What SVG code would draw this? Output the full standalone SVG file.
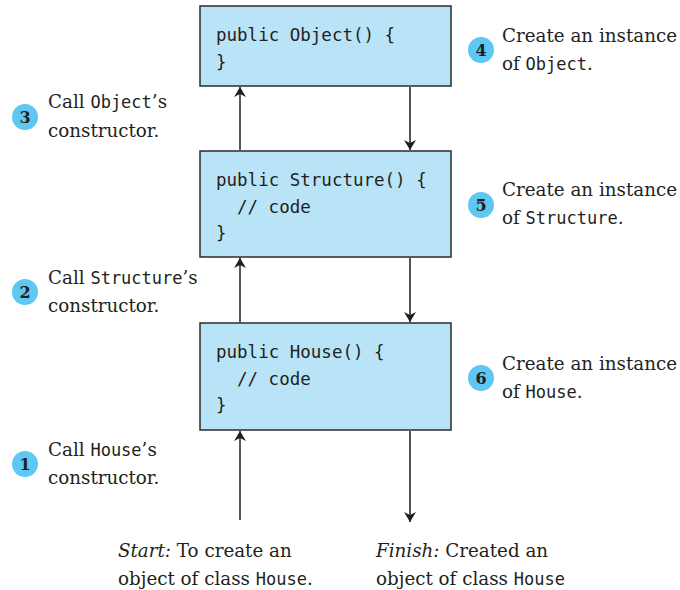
<svg xmlns="http://www.w3.org/2000/svg" width="680" height="590" viewBox="0 0 680 590">
<style>
.box{fill:#b9e4f7;stroke:#2b2b2b;stroke-width:1.5}
.code{font-family:"DejaVu Sans Mono",monospace;font-size:17.5px;fill:#231f20;white-space:pre}
.lbl{font-family:"DejaVu Serif",serif;font-size:18.3px;fill:#231f20}
.m{font-family:"DejaVu Sans Mono",monospace;font-size:17px}
.num{fill:#5ec8f2}
.nt{font-family:"DejaVu Serif",serif;font-size:16px;font-weight:bold;fill:#231f20;text-anchor:middle}
.up{stroke:#231f20;stroke-width:1.5;fill:none}
.dn{stroke:#555;stroke-width:2;fill:none}
</style>
<defs>
<marker id="ah" viewBox="0 0 10 12" refX="10" refY="6" markerWidth="10" markerHeight="12" markerUnits="userSpaceOnUse" orient="auto">
<path d="M0,0 L10,6 L0,12 L3,6 Z" fill="#231f20"/>
</marker>
</defs>
<g id="connectors">
<line class="up" x1="240" y1="520" x2="240" y2="431" marker-end="url(#ah)"/>
<line class="up" x1="240" y1="322" x2="240" y2="258" marker-end="url(#ah)"/>
<line class="up" x1="240" y1="150" x2="240" y2="87" marker-end="url(#ah)"/>
<line class="dn" x1="410" y1="87" x2="410" y2="150" marker-end="url(#ah)"/>
<line class="dn" x1="410" y1="258" x2="410" y2="322" marker-end="url(#ah)"/>
<line class="dn" x1="410" y1="431" x2="410" y2="522" marker-end="url(#ah)"/>
</g>
<g id="object">
<rect class="box" x="200" y="6" width="251" height="80"/>
<text class="code" x="216" y="41">public Object() {</text>
<text class="code" x="216" y="68">}</text>
</g>
<g id="structure">
<rect class="box" x="200" y="151" width="251" height="106"/>
<text class="code" x="216" y="186">public Structure() {</text>
<text class="code" x="237" y="213">// code</text>
<text class="code" x="216" y="239">}</text>
</g>
<g id="house">
<rect class="box" x="200" y="323" width="251" height="107"/>
<text class="code" x="216" y="358">public House() {</text>
<text class="code" x="237" y="385">// code</text>
<text class="code" x="216" y="411">}</text>
</g>
<g id="step3">
<circle class="num" cx="25" cy="117" r="13"/>
<text class="nt" x="25" y="123">3</text>
<text class="lbl" x="48" y="108">Call <tspan class="m">Object</tspan>’s</text>
<text class="lbl" x="48" y="137">constructor.</text>
</g>
<g id="step2">
<circle class="num" cx="25" cy="292" r="13"/>
<text class="nt" x="25" y="298">2</text>
<text class="lbl" x="48" y="284">Call <tspan class="m">Structure</tspan>’s</text>
<text class="lbl" x="48" y="312">constructor.</text>
</g>
<g id="step1">
<circle class="num" cx="25" cy="464" r="13"/>
<text class="nt" x="25" y="470">1</text>
<text class="lbl" x="48" y="456">Call <tspan class="m">House</tspan>’s</text>
<text class="lbl" x="48" y="484">constructor.</text>
</g>
<g id="step4">
<circle class="num" cx="481" cy="50" r="13"/>
<text class="nt" x="481" y="56">4</text>
<text class="lbl" x="502" y="42">Create an instance</text>
<text class="lbl" x="502" y="70">of <tspan class="m">Object</tspan>.</text>
</g>
<g id="step5">
<circle class="num" cx="481" cy="205" r="13"/>
<text class="nt" x="481" y="211">5</text>
<text class="lbl" x="502" y="196">Create an instance</text>
<text class="lbl" x="502" y="224">of <tspan class="m">Structure</tspan>.</text>
</g>
<g id="step6">
<circle class="num" cx="481" cy="378" r="13"/>
<text class="nt" x="481" y="384">6</text>
<text class="lbl" x="502" y="370">Create an instance</text>
<text class="lbl" x="502" y="398">of <tspan class="m">House</tspan>.</text>
</g>
<g id="start">
<text class="lbl" x="118" y="557"><tspan font-style="italic">Start:</tspan> To create an</text>
<text class="lbl" x="118" y="585">object of class <tspan class="m">House</tspan>.</text>
</g>
<g id="finish">
<text class="lbl" x="376" y="557"><tspan font-style="italic">Finish:</tspan> Created an</text>
<text class="lbl" x="376" y="585">object of class <tspan class="m">House</tspan></text>
</g>
</svg>
